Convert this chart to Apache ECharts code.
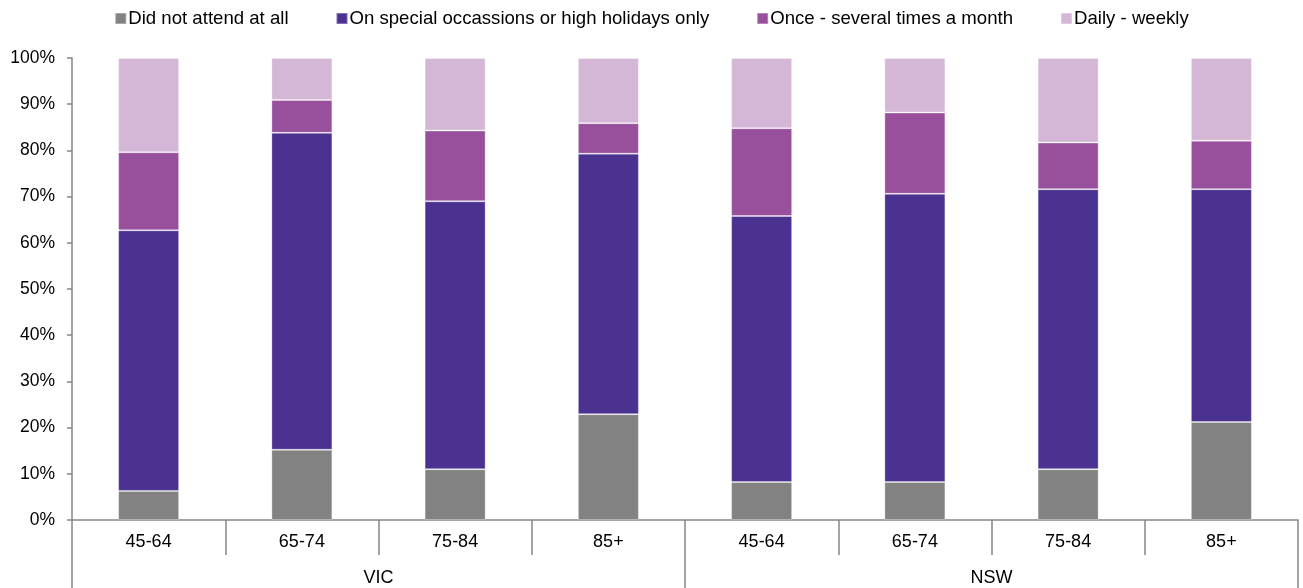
<!DOCTYPE html>
<html>
<head>
<meta charset="utf-8">
<script src="https://cdn.jsdelivr.net/npm/echarts@6/dist/echarts.min.js"></script>
<style>
html,body{margin:0;padding:0;background:#fff;}
#chart{width:1303px;height:588px;}
</style>
</head>
<body>
<div id="chart"></div>
<script>
const ageGroups = ['45-64','65-74','75-84','85+','45-64','65-74','75-84','85+'];
const states = ['VIC','NSW'];
const seriesNames = ['Did not attend at all','On special occassions or high holidays only','Once - several times a month','Daily - weekly'];
const didNotAttend = [6.3, 15.2, 11.0, 22.9, 8.2, 8.2, 11.0, 21.2];
const specialOccasions = [56.4, 68.6, 58.0, 56.4, 57.6, 62.4, 60.6, 50.4];
const onceSeveral = [16.9, 7.1, 15.3, 6.6, 19.0, 17.6, 10.1, 10.5];
const dailyWeekly = [20.4, 9.1, 15.7, 14.1, 15.2, 11.8, 18.3, 17.9];
const yTicks = [0,10,20,30,40,50,60,70,80,90,100];

const colors = ['#828282','#4B3190','#98509D','#D4B7D6'];
const dataSets = [didNotAttend, specialOccasions, onceSeveral, dailyWeekly];
const axisColor = '#868686';
const font = '"Liberation Sans", Arial, sans-serif';

const chart = echarts.init(document.getElementById('chart'), null, {renderer:'canvas'});
chart.setOption({
  animation: false,
  color: colors,
  textStyle: {fontFamily: font},
  legend: {
    top: 4,
    left: 'center',
    icon: 'rect',
    itemWidth: 11,
    itemHeight: 11,
    itemGap: 47,
    textStyle: {fontFamily: font, fontSize: 18.6, color: '#000', padding: [0,0,0,-3]},
    data: seriesNames
  },
  grid: {left: 72, right: 5, top: 58, bottom: 68, containLabel: false},
  xAxis: [
    {
      type: 'category',
      data: ageGroups,
      position: 'bottom',
      axisLine: {show: true, lineStyle: {color: axisColor, width: 1.5}},
      axisTick: {show: true, interval: 0, length: 35, lineStyle: {color: axisColor, width: 1.5}},
      axisLabel: {interval: 0, margin: 13, fontSize: 18, color: '#000', fontFamily: font}
    },
    {
      type: 'category',
      data: states,
      position: 'bottom',
      axisLine: {show: false},
      axisTick: {show: true, interval: 0, length: 68, lineStyle: {color: axisColor, width: 1.5}},
      axisLabel: {interval: 0, margin: 49, fontSize: 18, color: '#000', fontFamily: font}
    }
  ],
  yAxis: {
    type: 'value',
    min: 0,
    max: 100,
    interval: 10,
    axisLine: {show: true, lineStyle: {color: axisColor, width: 1.5}},
    axisTick: {show: true, length: 5, lineStyle: {color: axisColor, width: 1.5}},
    splitLine: {show: false},
    axisLabel: {margin: 17, fontSize: 17.5, color: '#000', fontFamily: font,
      formatter: v => yTicks.includes(v) ? v + '%' : ''}
  },
  series: seriesNames.map((name, i) => ({
    name: name,
    type: 'bar',
    stack: 'total',
    xAxisIndex: 0,
    barWidth: 61,
    data: dataSets[i],
    itemStyle: {color: colors[i], borderColor: 'rgba(255,255,255,0.3)', borderWidth: 1}
  }))
});
</script>
</body>
</html>
